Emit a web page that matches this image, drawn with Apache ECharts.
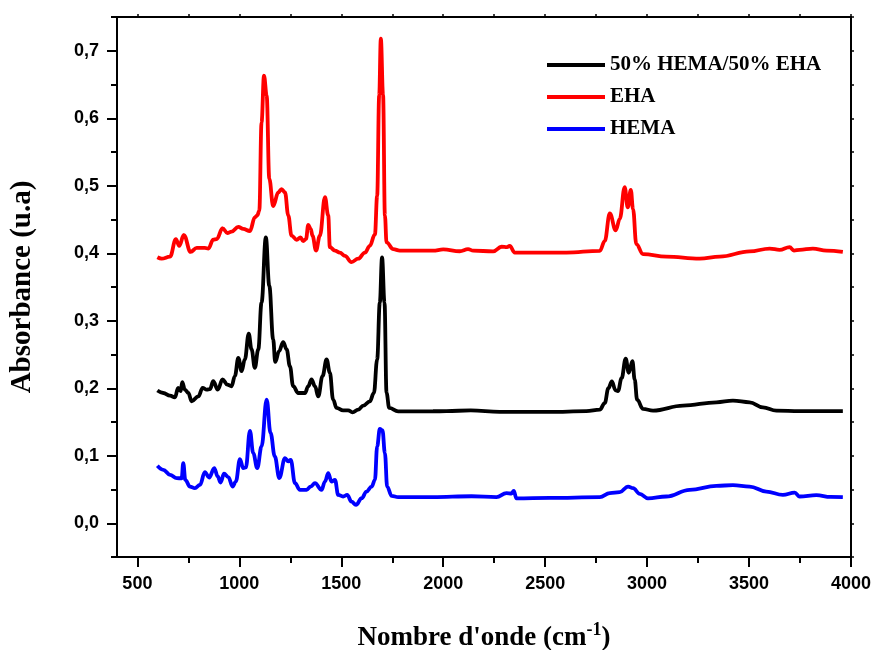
<!DOCTYPE html>
<html>
<head>
<meta charset="utf-8">
<script src="https://cdn.jsdelivr.net/npm/echarts@6/dist/echarts.min.js"></script>
<style>
  html, body { margin: 0; padding: 0; background: #fff; }
  #chart { width: 875px; height: 650px; }
</style>
</head>
<body>
<div id="chart"></div>
<script>
// FTIR spectra: wavenumber (cm-1) and absorbance for each sample
const mixWn = [598,627,660,684,700,712,720,733,750,766,799,820,840,856,872,894,918,941,962,978,995,1011,1027,1046,1060,1076,1093,1109,1130,1147,1166,1176,1195,1215,1232,1248,1264,1289,1322,1338,1354,1371,1387,1408,1428,1444,1460,1477,1509,1534,1555,1583,1608,1640,1660,1676,1689,1700,1712,1722,1735,1779,1950,2016,2135,2277,2522,2702,2768,2792,2810,2827,2845,2857,2875,2895,2910,2928,2939,2951,2980,3029,3176,3340,3421,3503,3568,3634,3748,3960];
const mixAbs = [0.1966,0.193,0.189,0.1866,0.2006,0.1956,0.209,0.198,0.193,0.1807,0.188,0.2006,0.198,0.1986,0.2104,0.198,0.213,0.2055,0.203,0.218,0.245,0.2253,0.2426,0.281,0.2575,0.2303,0.2575,0.327,0.4235,0.3516,0.2724,0.239,0.255,0.2684,0.2575,0.2327,0.203,0.193,0.193,0.203,0.213,0.203,0.188,0.218,0.2427,0.223,0.1832,0.171,0.1673,0.1673,0.1644,0.1683,0.1743,0.1807,0.193,0.2427,0.327,0.3937,0.327,0.193,0.171,0.1658,0.1659,0.166,0.1673,0.165,0.165,0.166,0.1683,0.178,0.2,0.21,0.197,0.1956,0.215,0.244,0.223,0.24,0.213,0.183,0.1694,0.1669,0.1743,0.1792,0.1817,0.1792,0.1718,0.1669,0.166,0.166];

const ehaWn = [598,619,660,689,705,728,761,791,831,848,872,889,918,941,962,995,1019,1052,1076,1088,1098,1109,1121,1134,1147,1166,1191,1207,1224,1240,1256,1281,1300,1313,1327,1338,1350,1359,1376,1395,1420,1436,1444,1469,1493,1518,1550,1583,1616,1640,1665,1676,1686,1694,1705,1714,1722,1755,1787,1950,2000,2081,2122,2147,2245,2286,2313,2326,2351,2441,2604,2768,2792,2817,2846,2866,2890,2905,2920,2931,2947,2980,3094,3258,3356,3503,3601,3650,3699,3720,3748,3813,3880,3960];
const ehaAbs = [0.394,0.392,0.395,0.421,0.411,0.427,0.402,0.408,0.408,0.407,0.42,0.421,0.437,0.43,0.432,0.439,0.436,0.433,0.453,0.456,0.463,0.594,0.663,0.634,0.51,0.47,0.49,0.495,0.49,0.456,0.426,0.42,0.4235,0.418,0.421,0.442,0.436,0.426,0.404,0.426,0.483,0.456,0.409,0.404,0.401,0.396,0.387,0.392,0.401,0.411,0.428,0.485,0.634,0.718,0.634,0.456,0.416,0.406,0.404,0.404,0.4056,0.403,0.406,0.404,0.4027,0.4096,0.409,0.411,0.401,0.401,0.401,0.4036,0.418,0.459,0.434,0.451,0.498,0.468,0.494,0.4655,0.4135,0.3987,0.395,0.392,0.395,0.4027,0.407,0.405,0.409,0.404,0.405,0.407,0.404,0.402];

const hemaWn = [598,627,660,693,717,725,735,758,782,807,831,852,877,894,908,925,946,967,983,1003,1019,1032,1052,1068,1088,1109,1134,1153,1174,1196,1224,1240,1252,1273,1297,1330,1350,1371,1403,1420,1436,1452,1469,1485,1509,1529,1550,1572,1600,1624,1649,1665,1676,1689,1702,1714,1725,1747,1779,1950,2139,2261,2310,2335,2346,2359,2522,2768,2817,2866,2907,2931,2964,3004,3094,3209,3340,3421,3503,3585,3666,3724,3748,3830,3900,3960];
const hemaAbs = [0.0851,0.0792,0.0718,0.0669,0.0664,0.0891,0.0643,0.0544,0.052,0.0569,0.0758,0.0678,0.0817,0.0693,0.0604,0.0733,0.0684,0.0544,0.0618,0.0951,0.0817,0.0827,0.137,0.104,0.0817,0.1138,0.1832,0.1337,0.099,0.067,0.0966,0.0916,0.094,0.0594,0.0495,0.0495,0.0544,0.0594,0.0495,0.0618,0.0743,0.0618,0.0643,0.042,0.0396,0.042,0.0321,0.0272,0.0371,0.047,0.0544,0.0643,0.1138,0.1397,0.1376,0.104,0.0544,0.0406,0.0386,0.0386,0.04,0.0386,0.0446,0.0441,0.048,0.037,0.0376,0.0386,0.0446,0.046,0.0544,0.052,0.0435,0.037,0.0396,0.0495,0.0554,0.0564,0.0544,0.047,0.042,0.0455,0.0396,0.0416,0.039,0.0386];

const seriesNames = ['50% HEMA/50% EHA', 'EHA', 'HEMA'];
const seriesColors = ['#000000', '#ff0000', '#0000ff'];

// Axis ticks
const xMajorTicks = [500,1000,1500,2000,2500,3000,3500,4000];
const xMinorTicks = [750,1250,1750,2250,2750,3250,3750];
const yMajorTicks = [0,0.1,0.2,0.3,0.4,0.5,0.6,0.7];
const yMinorTicks = [-0.05,0.05,0.15,0.25,0.35,0.45,0.55,0.65,0.75];

const X_MIN = 400, X_MAX = 4000, Y_MIN = -0.05, Y_MAX = 0.75;

const zip = (xs, ys) => xs.map((x, i) => [x, ys[i]]);
const spectra = [zip(mixWn, mixAbs), zip(ehaWn, ehaAbs), zip(hemaWn, hemaAbs)];

const labelFont = { fontFamily: 'Liberation Sans, Arial, sans-serif', fontWeight: 'bold', fontSize: 18, color: '#000' };
const titleFont = { fontFamily: 'Liberation Serif, Times New Roman, serif', fontWeight: 'bold', color: '#000' };
const axisLine = { show: true, onZero: false, lineStyle: { color: '#000', width: 2 } };

// Extra axes carrying only ticks (minor ticks, top/right frame)
function tickAxis(extra) {
  return Object.assign({
    type: 'value',
    axisLine: { show: false, onZero: false },
    axisLabel: { show: false }, splitLine: { show: false }
  }, extra);
}

const option = {
  animation: false,
  backgroundColor: '#fff',
  grid: { left: 117, right: 24, top: 17, bottom: 93, containLabel: false, outerBoundsMode: 'none' },
  legend: {
    orient: 'vertical', left: 547, top: 53, padding: 0,
    itemWidth: 58, itemHeight: 4, itemGap: 8, icon: 'rect',
    data: seriesNames,
    textStyle: Object.assign({}, titleFont, { fontSize: 21, lineHeight: 24 })
  },
  xAxis: [
    {
      type: 'value', position: 'bottom', min: X_MIN, max: X_MAX,
      axisLine: axisLine,
      axisTick: { show: true, customValues: xMajorTicks, length: 10, lineStyle: { color: '#000', width: 2 } },
      axisLabel: Object.assign({ customValues: xMajorTicks, margin: 18, formatter: v => String(v) }, labelFont),
      splitLine: { show: false },
      name: "Nombre d'onde (cm{sup|-1})",
      nameLocation: 'middle', nameGap: 64,
      nameTextStyle: Object.assign({}, titleFont, {
        fontSize: 27,
        rich: { sup: Object.assign({}, titleFont, { fontSize: 18, verticalAlign: 'top', padding: [0, 0, 16, 0] }) }
      })
    },
    tickAxis({ position: 'bottom', min: X_MIN, max: X_MAX,
      axisTick: { show: true, customValues: xMinorTicks, length: 6, lineStyle: { color: '#000', width: 2 } } }),
    tickAxis({ position: 'top', min: X_MIN, max: X_MAX, axisLine: axisLine,
      axisTick: { show: true, customValues: xMajorTicks.concat(xMinorTicks), length: 3, lineStyle: { color: '#000', width: 1.5 } } })
  ],
  yAxis: [
    {
      type: 'value', position: 'left', min: Y_MIN, max: Y_MAX,
      axisLine: axisLine,
      axisTick: { show: true, customValues: yMajorTicks, length: 10, lineStyle: { color: '#000', width: 2 } },
      axisLabel: Object.assign({
        customValues: yMajorTicks, margin: 18,
        formatter: v => v.toFixed(1).replace('.', ',')
      }, labelFont),
      splitLine: { show: false },
      name: 'Absorbance (u.a)',
      nameLocation: 'middle', nameGap: 80, nameRotate: 90,
      nameTextStyle: Object.assign({}, titleFont, { fontSize: 29 })
    },
    tickAxis({ position: 'left', min: Y_MIN, max: Y_MAX,
      axisTick: { show: true, customValues: yMinorTicks, length: 6, lineStyle: { color: '#000', width: 2 } } }),
    tickAxis({ position: 'right', min: Y_MIN, max: Y_MAX, axisLine: axisLine,
      axisTick: { show: true, customValues: yMajorTicks.concat(yMinorTicks), length: 3, lineStyle: { color: '#000', width: 1.5 } } })
  ],
  series: seriesNames.map((name, i) => ({
    name: name,
    type: 'line',
    xAxisIndex: 0, yAxisIndex: 0,
    data: spectra[i],
    showSymbol: false, symbol: 'none',
    smooth: 0.4, smoothMonotone: 'x',
    color: seriesColors[i],
    lineStyle: { color: seriesColors[i], width: 3.8 }
  }))
};

const chart = echarts.init(document.getElementById('chart'), null, { renderer: 'canvas' });
chart.setOption(option);
</script>
</body>
</html>
